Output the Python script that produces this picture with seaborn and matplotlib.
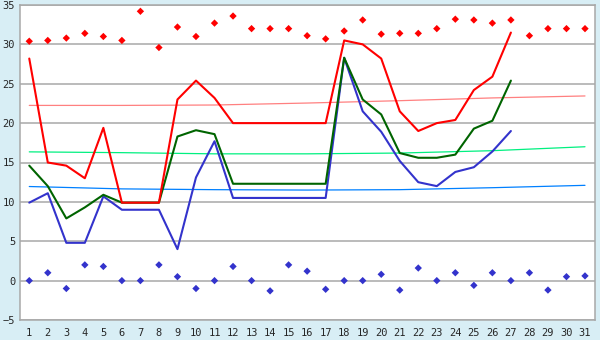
import matplotlib
matplotlib.use("Agg")
import matplotlib.pyplot as plt
import seaborn as sns
import pandas as pd

# Data
days = list(range(1, 32))

red_marks = [30.4, 30.5, 30.8, 31.4, 31.0, 30.5, 34.2, 29.6, 32.2, 31.0,
             32.7, 33.6, 32.0, 32.0, 32.0, 31.1, 30.7, 31.7, 33.1, 31.3,
             31.4, 31.4, 32.0, 33.2, 33.1, 32.7, 33.1, 31.1, 32.0, 32.0, 32.0]
blue_marks = [0.0, 1.0, -1.0, 2.0, 1.8, 0.0, 0.0, 2.0, 0.5, -1.0,
              0.0, 1.8, 0.0, -1.3, 2.0, 1.2, -1.1, 0.0, 0.0, 0.8,
              -1.2, 1.6, 0.0, 1.0, -0.6, 1.0, 0.0, 1.0, -1.2, 0.5, 0.6]

line_days = list(range(1, 28))
red_line = [28.2, 15.0, 14.6, 13.0, 19.4, 9.9, 9.9, 9.9, 23.0, 25.4,
            23.2, 20.0, 20.0, 20.0, 20.0, 20.0, 20.0, 30.5, 30.0, 28.2,
            21.5, 19.0, 20.0, 20.4, 24.2, 25.9, 31.5]
green_line = [14.6, 12.0, 7.9, 9.3, 10.9, 9.9, 9.9, 9.9, 18.3, 19.1,
              18.6, 12.3, 12.3, 12.3, 12.3, 12.3, 12.3, 28.3, 23.0, 21.1,
              16.2, 15.6, 15.6, 16.0, 19.3, 20.3, 25.4]
blue_line = [9.9, 11.1, 4.8, 4.8, 10.7, 9.0, 9.0, 9.0, 4.0, 13.1,
             17.7, 10.5, 10.5, 10.5, 10.5, 10.5, 10.5, 28.3, 21.5, 18.9,
             15.2, 12.5, 12.0, 13.8, 14.4, 16.4, 19.0]

trend_days = [1, 6, 11, 16, 21, 26, 31]
red_trend = [22.25, 22.25, 22.3, 22.55, 22.85, 23.2, 23.45]
green_trend = [16.35, 16.25, 16.1, 16.1, 16.2, 16.5, 17.0]
blue_trend = [11.95, 11.65, 11.55, 11.5, 11.55, 11.8, 12.1]

BG = "#d8eef5"
GRID = "#a8a8a8"

sns.set_style("white")
plt.rcParams["font.family"] = ["DejaVu Sans Mono", "DejaVu Sans"]

fig = plt.figure(figsize=(6, 3.4), dpi=100, facecolor=BG)
ax = fig.add_axes([20 / 600, 1 - 320 / 340, 575 / 600, 315 / 340])
ax.set_facecolor("white")

for y in range(-5, 36, 5):
    ax.axhline(y, color=GRID, lw=1.1, zorder=0)

# trend lines
sns.lineplot(x=trend_days, y=red_trend, color="#ff8080", lw=0.9, ax=ax)
sns.lineplot(x=trend_days, y=green_trend, color="#00f080", lw=0.9, ax=ax)
sns.lineplot(x=trend_days, y=blue_trend, color="#0080ff", lw=0.9, ax=ax)

# main lines
sns.lineplot(x=line_days, y=blue_line, color="#3333cc", lw=1.5, ax=ax)
sns.lineplot(x=line_days, y=green_line, color="#006400", lw=1.5, ax=ax)
sns.lineplot(x=line_days, y=red_line, color="#ff0000", lw=1.5, ax=ax)

# markers
sns.scatterplot(x=days, y=red_marks, marker="D", s=14, color="#ff0000",
                edgecolor="none", ax=ax)
sns.scatterplot(x=days, y=blue_marks, marker="D", s=14, color="#3333cc",
                edgecolor="none", ax=ax)

ax.set_xlim(0.5, 31.54)
ax.set_ylim(-5, 35)
ax.set_xticks(days)
ax.set_xticklabels([str(d) for d in days])
ax.set_yticks(range(-5, 36, 5))
ax.tick_params(axis="x", labelsize=7.5, length=3.5, width=1, color="black",
               direction="out", pad=2.5)
ax.tick_params(axis="y", labelsize=7.5, length=3, width=1, color="black",
               direction="out", pad=0.5)
for s in ax.spines.values():
    s.set_color(GRID)
    s.set_linewidth(1.1)

fig.savefig("out.png", dpi=100, facecolor=BG)
